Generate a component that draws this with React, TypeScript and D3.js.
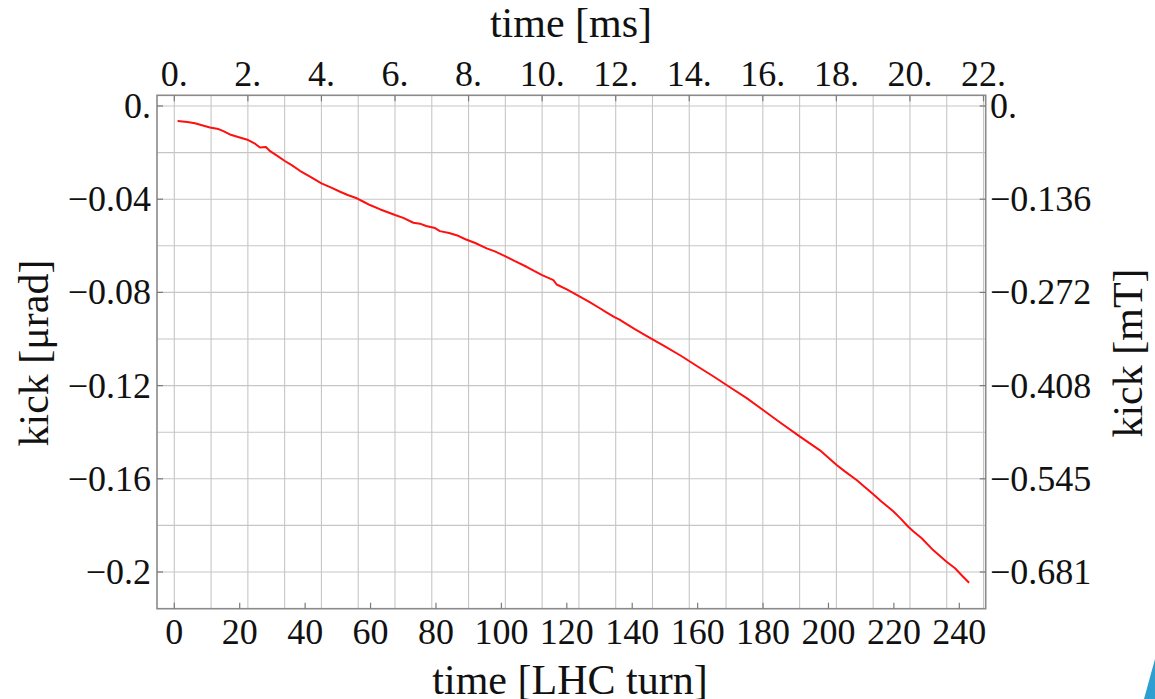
import React from "react";
import * as d3 from "d3";

// ---- data ----
const turns = [1, 4, 6.3, 9, 10.9, 13.5, 15, 17, 20, 22.6, 24.5, 26.2, 28, 29.3, 31.5, 33.8, 36, 38.4, 41.5, 45, 48, 50.7, 53, 55.8, 58, 59.8, 63, 67.5, 70, 73.1, 75.1, 77, 79.7, 81.2, 84, 86.8, 89, 92, 95.5, 98, 101.1, 104, 107.7, 110, 112.3, 115.9, 116.9, 120, 124, 127, 130.1, 132, 134.7, 136, 138.3, 140.8, 145, 150, 155, 160, 165, 170, 175, 180, 185, 191.3, 197.4, 202.5, 205, 208.6, 211, 213.7, 216, 219.8, 222, 224.4, 226, 228.5, 232, 234, 236.1, 238.7, 241, 243];
const kick = [-0.0064, -0.0069, -0.0074, -0.0085, -0.0092, -0.0099, -0.0108, -0.0122, -0.0135, -0.0146, -0.016, -0.0178, -0.0176, -0.0194, -0.0214, -0.0236, -0.0255, -0.0278, -0.0303, -0.0332, -0.035, -0.0368, -0.0382, -0.0396, -0.0412, -0.0425, -0.0444, -0.0468, -0.048, -0.0501, -0.0505, -0.0515, -0.0524, -0.0537, -0.0545, -0.0557, -0.0572, -0.0588, -0.0611, -0.0624, -0.0644, -0.0665, -0.069, -0.0708, -0.0725, -0.0747, -0.0766, -0.0787, -0.0818, -0.0842, -0.0868, -0.0885, -0.0907, -0.0916, -0.0936, -0.0958, -0.0992, -0.1032, -0.1073, -0.1118, -0.1162, -0.1208, -0.1254, -0.1305, -0.1356, -0.1419, -0.1478, -0.1541, -0.1568, -0.1605, -0.1634, -0.1666, -0.1695, -0.1739, -0.177, -0.1806, -0.1826, -0.1855, -0.1906, -0.193, -0.1956, -0.1984, -0.2018, -0.2046];

const bottomTicks = [0, 20, 40, 60, 80, 100, 120, 140, 160, 180, 200, 220, 240];
const topTicksMs = [0, 2, 4, 6, 8, 10, 12, 14, 16, 18, 20, 22];
const msGrid = d3.range(0, 23, 1);
const leftTicks = [0, -0.04, -0.08, -0.12, -0.16, -0.2];
const yGrid = d3.range(0, 11).map((i) => -i * 0.02);
const turnMs = 0.088924; // ms per LHC turn
const mTPerUrad = 3.4035;

const W = 1155;
const H = 699;
const L = 157, R = 985.7, T = 95.3, B = 608.7;

const FONT = "'Liberation Serif', 'Times New Roman', serif";

export default function App() {
  const x = d3.scaleLinear().domain([-5.29, 248.07]).range([L, R]);
  const y = d3.scaleLinear().domain([0.00459, -0.21575]).range([T, B]);
  const line = d3
    .line<number>()
    .x((_, i) => x(turns[i]))
    .y((d) => y(d))
    .curve(d3.curveLinear);

  const fmtLeft = (v: number) => (v === 0 ? "0." : "\u2212" + String(+Math.abs(v).toFixed(2)));
  const fmtRight = (v: number) => (v === 0 ? "0." : "\u2212" + (Math.abs(v) * mTPerUrad).toFixed(3));
  const xms = (m: number) => x(m / turnMs);

  const tickC = "#7a7a7a";
  const tickLen = 6;
  const tickFs = 36;

  return (
    <svg
      width={W}
      height={H}
      style={{ position: "absolute", left: 0, top: 0, background: "#fff" }}
      fontFamily={FONT}
    >
      <defs>
        <clipPath id="plotclip">
          <rect x={L} y={T} width={R - L} height={B - T} />
        </clipPath>
      </defs>
      {/* grid */}
      <g stroke="#c6c6c6" strokeWidth={1.1}>
        {msGrid.map((m) => (
          <line key={"vg" + m} x1={xms(m)} x2={xms(m)} y1={T} y2={B} />
        ))}
        {yGrid.map((v) => (
          <line key={"hg" + v} x1={L} x2={R} y1={y(v)} y2={y(v)} />
        ))}
      </g>
      {/* curve */}
      <path
        d={line(kick) || ""}
        fill="none"
        stroke="#ff1010"
        strokeWidth={2}
        strokeLinejoin="round"
        clipPath="url(#plotclip)"
      />
      {/* frame */}
      <rect x={L} y={T} width={R - L} height={B - T} fill="none" stroke="#8a8a8a" strokeWidth={1.6} />
      {/* ticks */}
      <g stroke={tickC} strokeWidth={1.2}>
        {bottomTicks.map((t) => (
          <line key={"bt" + t} x1={x(t)} x2={x(t)} y1={B} y2={B - tickLen} />
        ))}
        {topTicksMs.map((m) => (
          <line key={"tt" + m} x1={xms(m)} x2={xms(m)} y1={T} y2={T + tickLen} />
        ))}
        {leftTicks.map((v) => (
          <line key={"lt" + v} x1={L} x2={L + tickLen} y1={y(v)} y2={y(v)} />
        ))}
        {leftTicks.map((v) => (
          <line key={"rt" + v} x1={R} x2={R - tickLen} y1={y(v)} y2={y(v)} />
        ))}
      </g>
      {/* tick labels */}
      <g fontSize={tickFs} fill="#111">
        {bottomTicks.map((t) => (
          <text key={"bl" + t} x={x(t)} y={644} textAnchor="middle">
            {String(t)}
          </text>
        ))}
        {topTicksMs.map((m) => (
          <text key={"tl" + m} x={xms(m)} y={86} textAnchor="middle">
            {m + "."}
          </text>
        ))}
        {leftTicks.map((v) => (
          <text key={"ll" + v} x={151} y={y(v) + 12} textAnchor="end">
            {fmtLeft(v)}
          </text>
        ))}
        {leftTicks.map((v) => (
          <text key={"rl" + v} x={990} y={y(v) + 12} textAnchor="start">
            {fmtRight(v)}
          </text>
        ))}
      </g>
      {/* axis titles */}
      <g fontSize={42} fill="#111">
        <text x={571} y={37} textAnchor="middle">time [ms]</text>
        <text x={570} y={694} textAnchor="middle">time [LHC turn]</text>
        <text transform={`translate(48,353) rotate(-90)`} textAnchor="middle">kick [μrad]</text>
        <text transform={`translate(1142,353) rotate(-90)`} textAnchor="middle">kick [mT]</text>
      </g>
      {/* slide decoration */}
      <path d={`M${W},${H - 40} L${W},${H} L${W - 11},${H} Z`} fill="#2e9fd0" />
    </svg>
  );
}
